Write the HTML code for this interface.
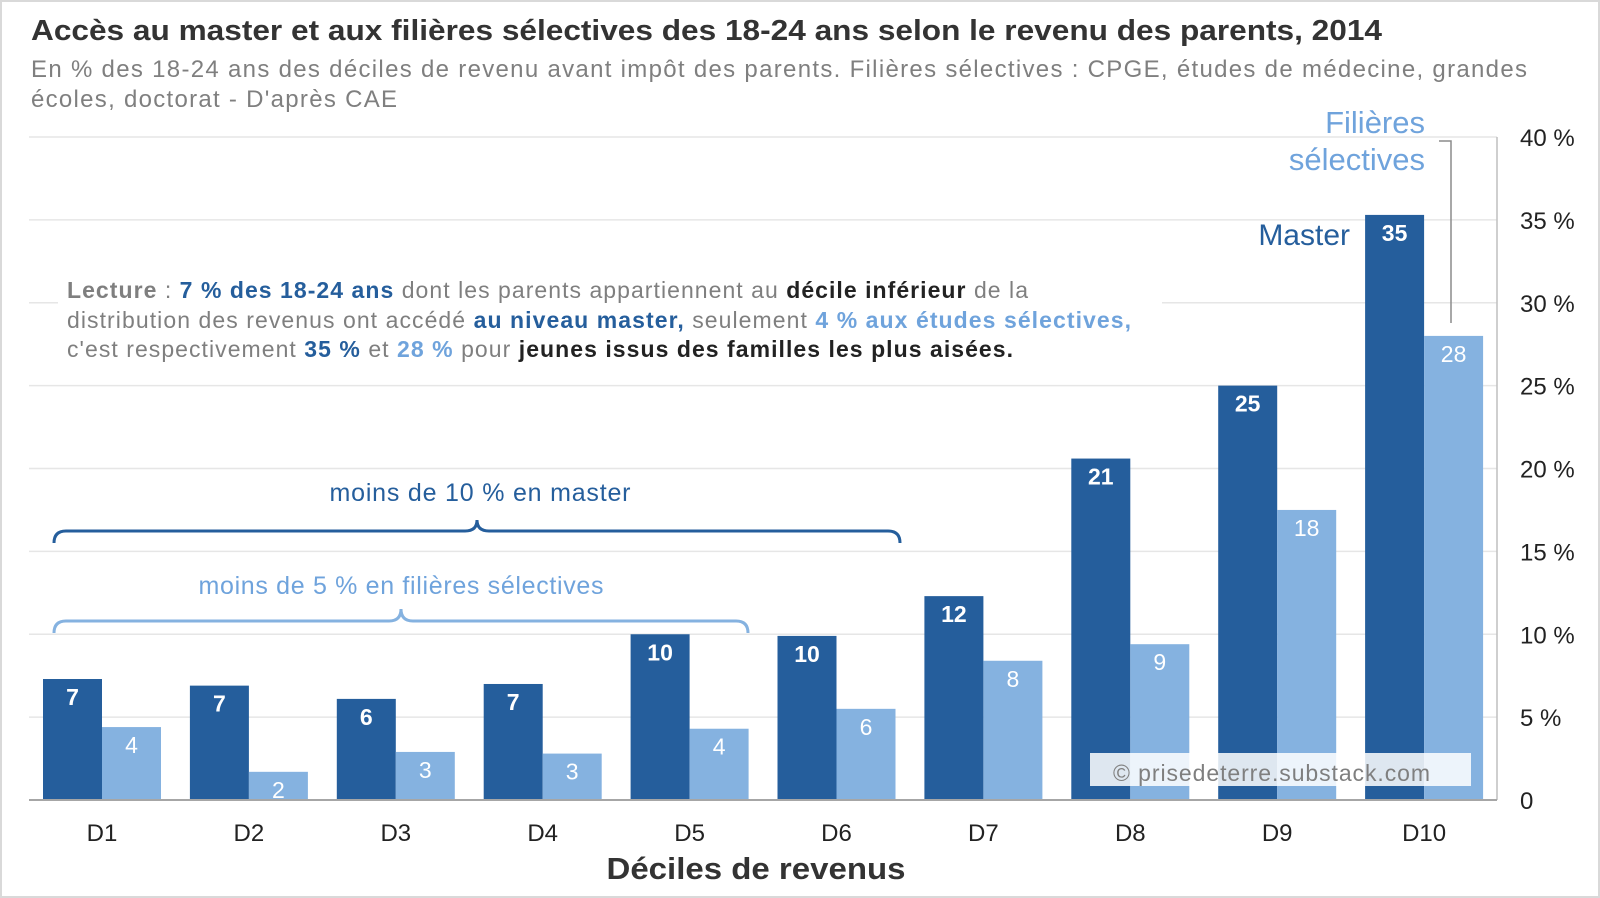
<!DOCTYPE html>
<html><head><meta charset="utf-8"><style>
body{margin:0;background:#fff}
svg{display:block;font-family:"Liberation Sans",sans-serif}
</style></head><body>
<svg width="1600" height="898" viewBox="0 0 1600 898">
<rect x="1" y="1" width="1598" height="896" fill="#fff" stroke="#d9d9d9" stroke-width="2"/>
<text x="31" y="40" font-size="29" font-weight="bold" fill="#333" textLength="1351" lengthAdjust="spacingAndGlyphs">Accès au master et aux filières sélectives des 18-24 ans selon le revenu des parents, 2014</text>
<text x="31" y="77" font-size="24" fill="#7f7f7f" textLength="1496" lengthAdjust="spacing">En % des 18-24 ans des déciles de revenu avant impôt des parents. Filières sélectives : CPGE, études de médecine, grandes</text>
<text x="31" y="107" font-size="24" fill="#7f7f7f" textLength="366" lengthAdjust="spacing">écoles, doctorat - D'après CAE</text>
<g id="grid"></g>
<g id="bars"></g>
<line x1="1497" y1="137" x2="1497" y2="800" stroke="#bfbfbf" stroke-width="1.5"/>
<line x1="29" y1="800" x2="1497" y2="800" stroke="#a6a6a6" stroke-width="2"/>
<g id="ylabels"></g>
<g id="xlabels"></g>
<text x="756" y="879" font-size="31" font-weight="bold" text-anchor="middle" fill="#333" textLength="299" lengthAdjust="spacingAndGlyphs">Déciles de revenus</text>
<rect x="58" y="272" width="1104" height="96" fill="#fff"/>
<g font-size="23" fill="#7f7f7f">
<text x="67" y="298" textLength="961" lengthAdjust="spacing"><tspan font-weight="bold">Lecture</tspan> : <tspan font-weight="bold" fill="#255e9c">7 % des 18-24 ans</tspan> dont les parents appartiennent au <tspan font-weight="bold" fill="#222">décile inférieur</tspan> de la</text>
<text x="67" y="328" textLength="1064" lengthAdjust="spacing">distribution des revenus ont accédé <tspan font-weight="bold" fill="#255e9c">au niveau master,</tspan> seulement <tspan font-weight="bold" fill="#6fa3dc">4 % aux études sélectives,</tspan></text>
<text x="67" y="357" textLength="946" lengthAdjust="spacing">c'est respectivement <tspan font-weight="bold" fill="#255e9c">35 %</tspan> et <tspan font-weight="bold" fill="#6fa3dc">28 %</tspan> pour <tspan font-weight="bold" fill="#222">jeunes issus des familles les plus aisées.</tspan></text>
</g>
<path d="M54,543 Q54,531 66,531 L465,531 Q477,531 477,520 Q477,531 489,531 L888,531 Q900,531 900,543" fill="none" stroke="#255e9c" stroke-width="3"/>
<text x="480" y="501" font-size="25" fill="#255e9c" text-anchor="middle" textLength="301" lengthAdjust="spacing">moins de 10 % en master</text>
<path d="M54,633 Q54,621 66,621 L389,621 Q401,621 401,609 Q401,621 413,621 L736,621 Q748,621 748,633" fill="none" stroke="#85b2e0" stroke-width="3"/>
<text x="401" y="594" font-size="25" fill="#6fa3dc" text-anchor="middle" textLength="405" lengthAdjust="spacing">moins de 5 % en filières sélectives</text>
<text x="1350" y="245" font-size="30" fill="#255e9c" text-anchor="end">Master</text>
<text x="1425" y="133" font-size="31" fill="#6fa3dc" text-anchor="end">Filières</text>
<text x="1425" y="170" font-size="31" fill="#6fa3dc" text-anchor="end">sélectives</text>
<path d="M1439,141 L1451,141 L1451,323" fill="none" stroke="#8c8c8c" stroke-width="1.5"/>
<rect x="1090" y="753" width="381" height="33" fill="#fff" opacity="0.85"/>
<text x="1113" y="781" font-size="23" fill="#7f7f7f" textLength="317" lengthAdjust="spacing">© prisedeterre.substack.com</text>
</svg>
<script>
const categories=["D1","D2","D3","D4","D5","D6","D7","D8","D9","D10"];
const masterValues=[7.3,6.9,6.1,7.0,10.0,9.9,12.3,20.6,25.0,35.3];
const selectiveValues=[4.4,1.7,2.9,2.8,4.3,5.5,8.4,9.4,17.5,28.0];
const yTicks=[0,5,10,15,20,25,30,35,40];
const NS="http://www.w3.org/2000/svg";
const y=v=>800-v*(663/40);
const x=i=>43+i*146.9;
const bw=59;
function mk(tag,attrs,parent){const e=document.createElementNS(NS,tag);for(const k in attrs)e.setAttribute(k,attrs[k]);document.getElementById(parent).appendChild(e);return e;}
yTicks.forEach(t=>{
  if(t>0){const g=mk("line",{x1:29,x2:1497,y1:y(t),y2:y(t),stroke:"#e6e6e6","stroke-width":1.5},"grid");
  
  }
  const l=mk("text",{x:1520,y:y(t)+9,"font-size":24,fill:"#222"},"ylabels");
  l.textContent=t===0?"0":t+" %";
  
  
});
categories.forEach((c,i)=>{
  const m=mk("rect",{x:x(i),y:y(masterValues[i]),width:bw,height:800-y(masterValues[i]),fill:"#255e9c"},"bars");
  
  
  const s=mk("rect",{x:x(i)+bw,y:y(selectiveValues[i]),width:bw,height:800-y(selectiveValues[i]),fill:"#85b2e0"},"bars");
  
  
  const ml=mk("text",{x:x(i)+bw/2,y:y(masterValues[i])+26,"font-size":23,"font-weight":"bold",fill:"#fff","text-anchor":"middle"},"bars");
  ml.textContent=Math.round(masterValues[i]);
  
  
  const sl=mk("text",{x:x(i)+bw*1.5,y:y(selectiveValues[i])+26,"font-size":23,fill:"#fff","text-anchor":"middle"},"bars");
  sl.textContent=Math.round(selectiveValues[i]);
  
  
  const xl=mk("text",{x:x(i)+bw,y:841,"font-size":24,fill:"#222","text-anchor":"middle"},"xlabels");
  xl.textContent=c;
  
  
});
</script>
</body></html>
